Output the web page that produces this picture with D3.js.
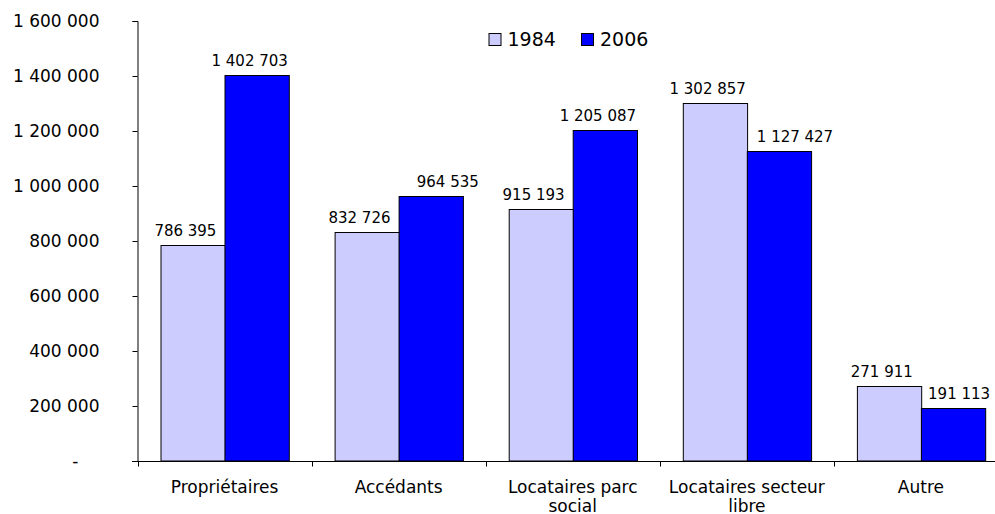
<!DOCTYPE html>
<html>
<head>
<meta charset="utf-8">
<script src="https://cdn.jsdelivr.net/npm/d3@7"></script>
<style>
  html, body { margin: 0; padding: 0; background: #fff; }
  svg { display: block; font-family: "DejaVu Sans", Verdana, sans-serif; }
</style>
</head>
<body>
<svg id="chart" width="995" height="514"></svg>
<script>
// Households by occupancy status, 1984 vs 2006
const categories = [["Propriétaires"], ["Accédants"], ["Locataires parc", "social"], ["Locataires secteur", "libre"], ["Autre"]];
const seriesNames = ["1984", "2006"];
const values1984 = [786395, 832726, 915193, 1302857, 271911];
const values2006 = [1402703, 964535, 1205087, 1127427, 191113];
const yTicks = [0, 200000, 400000, 600000, 800000, 1000000, 1200000, 1400000, 1600000];
const colors = ["#ccccff", "#0000ff"];

// horizontal nudge of each value label from its bar centre, in px (hand-placed labels)
const labelNudge = [[-7, -7, -7, -7, -7], [-7, 17, -7, 16, 6]];

const svg = d3.select("#chart");
const catKeys = categories.map(c => c.join(" "));
const series = [values1984, values2006];

// plot area (right edge runs past the frame)
const plotLeft = 137.5, plotRight = 1008, plotTop = 21, plotBottom = 461;

const y = d3.scaleLinear().domain([0, 1600000]).range([plotBottom, plotTop]);
const x0 = d3.scaleBand().domain(catKeys).range([plotLeft, plotRight]).padding(0);
const x1 = d3.scaleBand().domain(seriesNames)
  .range([x0.bandwidth() * 0.1307, x0.bandwidth() * (1 - 0.1307)]).padding(0);

const fmt = v => v === 0 ? "-" : d3.format(",")(v).replace(/,/g, " ");

// bars
const groups = svg.append("g").selectAll("g")
  .data(catKeys).join("g")
  .attr("transform", d => `translate(${x0(d)},0)`);

groups.selectAll("rect")
  .data((d, i) => seriesNames.map((s, j) => ({ s, v: series[j][i], j })))
  .join("rect")
  .attr("x", d => Math.round(x1(d.s)) + 0.5)
  .attr("y", d => Math.round(y(d.v)) + 0.5)
  .attr("width", x1.bandwidth())
  .attr("height", d => y(0) - Math.round(y(d.v)) - 0.5)
  .attr("fill", d => colors[d.j])
  .attr("stroke", "#000")
  .attr("stroke-width", 1);

// value labels
groups.selectAll("text")
  .data((d, i) => seriesNames.map((s, j) => ({ s, v: series[j][i], dx: labelNudge[j][i] })))
  .join("text")
  .attr("x", d => x1(d.s) + x1.bandwidth() / 2 + d.dx)
  .attr("y", d => y(d.v) - 9)
  .attr("text-anchor", "middle")
  .attr("font-size", 15)
  .attr("fill", "#000")
  .text(d => fmt(d.v));

// y axis
const yAxis = svg.append("g")
  .attr("transform", `translate(${plotLeft},0)`)
  .call(d3.axisLeft(y).tickValues(yTicks).tickSize(5).tickPadding(33).tickFormat(fmt));
yAxis.select(".domain").attr("stroke", "#000");
yAxis.selectAll(".tick line").attr("stroke", "#000");
yAxis.selectAll(".tick text")
  .attr("font-size", 17)
  .attr("font-family", "DejaVu Sans, Verdana, sans-serif")
  .attr("fill", "#000")
  .filter(d => d === 0).attr("x", -59);

// x axis with ticks on category boundaries
const xAxis = svg.append("g").attr("transform", `translate(0,${plotBottom + 0.5})`);
xAxis.append("line")
  .attr("x1", plotLeft - 5).attr("x2", plotRight)
  .attr("stroke", "#000");
xAxis.selectAll("line.sep")
  .data(catKeys.map(d => x0(d)).concat([plotRight]))
  .join("line").attr("class", "sep")
  .attr("x1", d => Math.round(d) + 0.5).attr("x2", d => Math.round(d) + 0.5)
  .attr("y1", 0).attr("y2", 5)
  .attr("stroke", "#000");

// category labels (wrapped on two lines where needed)
const catText = svg.append("g").selectAll("text")
  .data(categories).join("text")
  .attr("x", (d, i) => x0(catKeys[i]) + x0.bandwidth() / 2)
  .attr("y", 493)
  .attr("text-anchor", "middle")
  .attr("font-size", 17)
  .attr("fill", "#000");
catText.selectAll("tspan")
  .data(d => d).join("tspan")
  .attr("x", function () { return this.parentNode.getAttribute("x"); })
  .attr("dy", (d, i) => i === 0 ? 0 : 18.5)
  .text(d => d);

// legend
const legend = svg.append("g").selectAll("g")
  .data(seriesNames).join("g")
  .attr("transform", (d, i) => `translate(${489 + i * 92.5},33.5)`);
legend.append("rect")
  .attr("width", 12).attr("height", 12)
  .attr("fill", (d, i) => colors[i])
  .attr("stroke", "#000");
legend.append("text")
  .attr("x", 18.5).attr("y", 12.5)
  .attr("font-size", 19)
  .attr("fill", "#000")
  .text(d => d);
</script>
</body>
</html>
